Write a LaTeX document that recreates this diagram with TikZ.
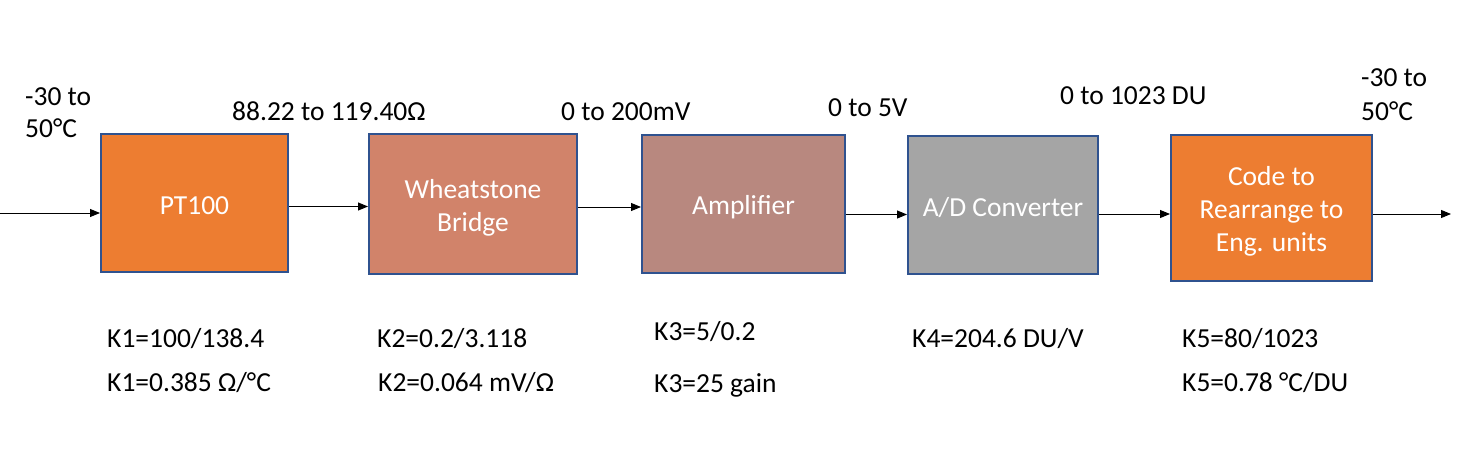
\documentclass[tikz,border=0pt]{standalone}
\usepackage{fontspec}
\setmainfont{Carlito}
\usetikzlibrary{arrows.meta}
\definecolor{orangeF}{HTML}{ED7D31}
\definecolor{wbF}{HTML}{D1836A}
\definecolor{ampF}{HTML}{B8887F}
\definecolor{adF}{HTML}{A5A5A5}
\definecolor{edgeC}{HTML}{2F528F}
\tikzset{
  blk/.style={draw=edgeC, line width=2pt, inner sep=0pt},
  boxtxt/.style={text=white, align=center, inner sep=0pt, yshift=-3pt},
  lbl/.style={anchor=base west, inner sep=0pt, text=black},
  arr/.style={line width=1pt, -{Triangle[length=10pt,width=8pt]}},
}
\begin{document}
\begin{tikzpicture}[x=1pt,y=-1pt,font=\fontsize{27.5}{33}\selectfont]
\useasboundingbox (0,0) rectangle (1465,460);
% blocks
\node[blk, fill=orangeF, minimum width=187pt, minimum height=138pt,
  label={[boxtxt]center:PT100}] (pt) at (194.5,203) {};
\node[blk, fill=wbF, minimum width=208pt, minimum height=140pt,
  label={[boxtxt, yshift=-1pt]center:{Wheatstone\\Bridge}}] (wb) at (473,204) {};
\node[blk, fill=ampF, minimum width=203pt, minimum height=138pt,
  label={[boxtxt]center:Amplifier}] (amp) at (743.5,204) {};
\node[blk, fill=adF, minimum width=190pt, minimum height=138pt,
  label={[boxtxt]center:A/D Converter}] (ad) at (1003,205) {};
\node[blk, fill=orangeF, minimum width=201pt, minimum height=146pt,
  label={[boxtxt]center:{Code to\\Rearrange to\\Eng. units}}] (code) at (1271.5,208) {};
% connectors
\coordinate (in) at (0,213);
\coordinate (out) at (1451,214);
\draw[arr] (in) -- (pt.west |- in);
\draw[arr] (pt.east |- 0,206.5) -- (wb.west |- 0,206.5);
\draw[arr] (wb.east |- 0,207) -- (amp.west |- 0,207);
\draw[arr] (amp.east |- 0,214.5) -- (ad.west |- 0,214.5);
\draw[arr] (ad.east |- 0,214) -- (code.west |- 0,214);
\draw[arr] (code.east |- out) -- (out);
% signal labels
\node[lbl] (lt1) at (25,105) {-30 to};
\node[lbl] (lt2) at (25,137) {50°C};
\node[lbl] (s1) at (232,121) {88.22 to 119.40Ω};
\node[lbl] (s2) at (561,121) {0 to 200mV};
\node[lbl] (s3) at (828,116) {0 to 5V};
\node[lbl] (s4) at (1060,104) {0 to 1023 DU};
\node[lbl] (rt1) at (1361,87) {-30 to};
\node[lbl] (rt2) at (1361,121) {50°C};
% gain labels
\node[lbl] (k1a) at (107,347) {K1=100/138.4};
\node[lbl] (k1b) at (107,391) {K1=0.385 Ω/°C};
\node[lbl] (k2a) at (377,347) {K2=0.2/3.118};
\node[lbl] (k2b) at (378,391) {K2=0.064 mV/Ω};
\node[lbl] (k3a) at (654,340) {K3=5/0.2};
\node[lbl] (k3b) at (654,392) {K3=25 gain};
\node[lbl] (k4) at (912,347) {K4=204.6 DU/V};
\node[lbl] (k5a) at (1182,347) {K5=80/1023};
\node[lbl] (k5b) at (1182,391) {K5=0.78 °C/DU};
\end{tikzpicture}
\end{document}
